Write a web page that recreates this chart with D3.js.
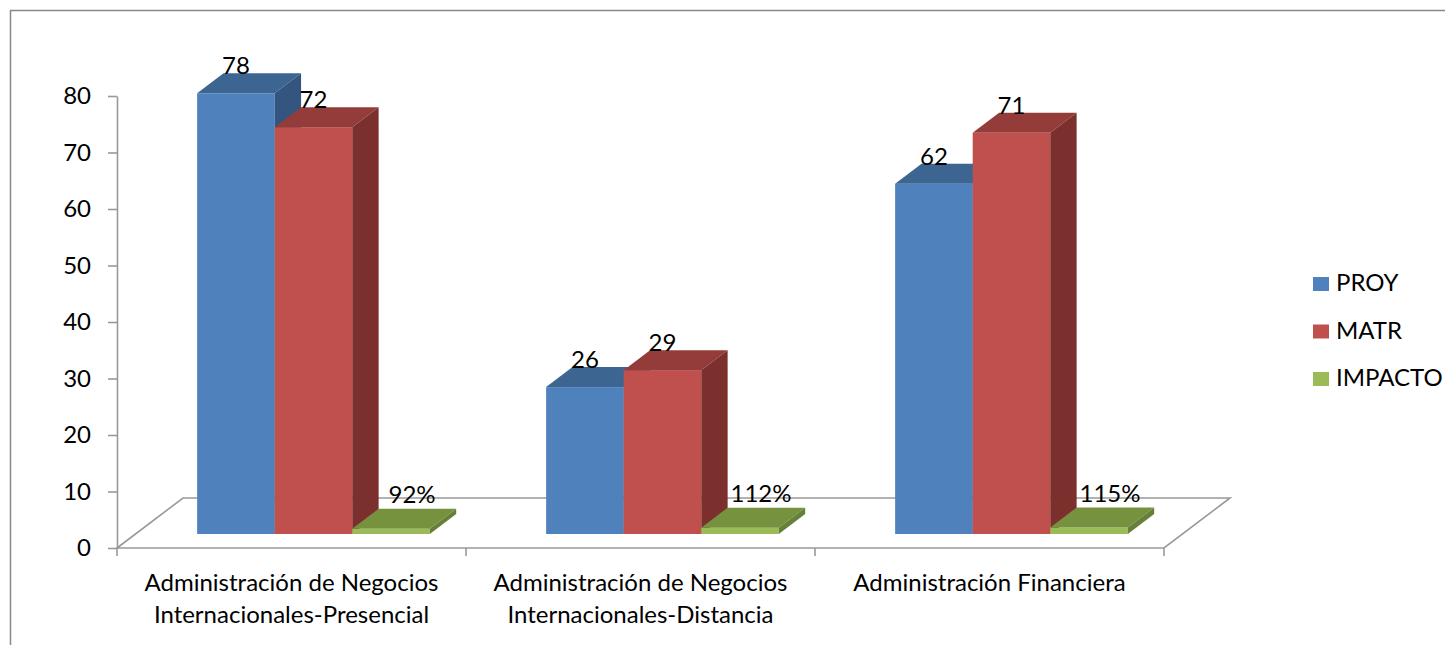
<!DOCTYPE html>
<html>
<head>
<meta charset="utf-8">
<script src="https://cdn.jsdelivr.net/npm/d3@7"></script>
<style>
  body { margin: 0; background: #fff; }
  text { font-family: Lato, "Open Sans", sans-serif; fill: #000; }
</style>
</head>
<body>
<svg id="chart" width="1445" height="645"></svg>
<script>
// data
const categories = [
  "Administración de Negocios Internacionales-Presencial",
  "Administración de Negocios Internacionales-Distancia",
  "Administración Financiera"
];
const seriesNames = ["PROY", "MATR", "IMPACTO"];
const proy    = [78, 26, 62];
const matr    = [72, 29, 71];
const impacto = [0.92, 1.12, 1.15];
const yTicks  = [0, 10, 20, 30, 40, 50, 60, 70, 80];

const seriesValues = [proy, matr, impacto];

// look
const colors = {
  PROY:    {front: "#4f81bd", top: "#3c6592", side: "#33557f"},
  MATR:    {front: "#c0504d", top: "#943c3a", side: "#7c302e"},
  IMPACTO: {front: "#9bbb59", top: "#77923f", side: "#66803a"}
};
const axisColor = "#999";
const fontSize = 24;

// 3d floor: front edge along the x axis, back edge shifted by (floorDx, floorDy)
const floorDx = 66, floorDy = -50;
const barFront = 0.28, barBack = 0.68;

const svg = d3.select("#chart");

// outer frame
svg.append("rect")
  .attr("x", 10.5).attr("y", 10.5)
  .attr("width", 1450).attr("height", 650)
  .attr("fill", "none")
  .attr("stroke", "#888")
  .attr("stroke-width", 1.5);

const x0 = d3.scaleBand()
  .domain(categories)
  .range([117, 1164]);

const x1 = d3.scaleBand()
  .domain(seriesNames)
  .range([0, x0.bandwidth()])
  .paddingOuter(0.75)
  .align(0.53);

const y = d3.scaleLinear()
  .domain([0, 80])
  .range([548, 96]);

// floor outline
const fx0 = x0.range()[0], fx1 = x0.range()[1], fy = y(0);
svg.append("path")
  .attr("d", `M${fx0},${fy} L${fx0 + floorDx},${fy + floorDy} L${fx1 + floorDx},${fy + floorDy} L${fx1},${fy} Z`)
  .attr("fill", "#fff")
  .attr("stroke", axisColor)
  .attr("stroke-width", 1.6);

// y axis
const yAxis = svg.append("g")
  .attr("transform", `translate(${fx0},0)`)
  .call(d3.axisLeft(y).tickValues(yTicks).tickSize(9).tickSizeOuter(0).tickPadding(17));
yAxis.select(".domain").attr("stroke", axisColor).attr("stroke-width", 1.6);
yAxis.selectAll(".tick line").attr("stroke", axisColor).attr("stroke-width", 1.6);
yAxis.selectAll(".tick text")
  .attr("font-size", fontSize)
  .attr("font-family", "Lato, 'Open Sans', sans-serif")
  .attr("fill", "#000");

// category ticks at band edges
const edges = categories.map(c => x0(c)).concat([fx1]);
svg.selectAll("line.catTick")
  .data(edges)
  .enter()
  .append("line")
  .attr("x1", d => d).attr("x2", d => d)
  .attr("y1", fy).attr("y2", fy + 8)
  .attr("stroke", axisColor)
  .attr("stroke-width", 1.6);

// bars
const offX = floorDx * barFront, offY = floorDy * barFront;
const ddx = floorDx * (barBack - barFront), ddy = floorDy * (barBack - barFront);
const bw = x1.bandwidth();

const bars = [];
categories.forEach((c, ci) => {
  seriesNames.forEach((s, si) => {
    const v = seriesValues[si][ci];
    const x = x0(c) + x1(s) + offX;
    const yt = y(v) + offY;
    const yb = y(0) + offY;
    bars.push({cat: c, series: s, value: v, x, yt, yb});
  });
});

const barG = svg.selectAll("g.bar")
  .data(bars)
  .enter()
  .append("g");

barG.append("rect")
  .attr("x", d => d.x)
  .attr("y", d => d.yt)
  .attr("width", bw)
  .attr("height", d => d.yb - d.yt)
  .attr("fill", d => colors[d.series].front);

barG.append("path")
  .attr("d", d => `M${d.x},${d.yt} L${d.x + bw},${d.yt} L${d.x + bw + ddx},${d.yt + ddy} L${d.x + ddx},${d.yt + ddy} Z`)
  .attr("fill", d => colors[d.series].top);

barG.append("path")
  .attr("d", d => `M${d.x + bw},${d.yt} L${d.x + bw + ddx},${d.yt + ddy} L${d.x + bw + ddx},${d.yb + ddy} L${d.x + bw},${d.yb} Z`)
  .attr("fill", d => colors[d.series].side);

// value labels
const fmtNum = d3.format("d");
const fmtPct = d3.format(".0%");
svg.selectAll("text.valueLabel")
  .data(bars)
  .enter()
  .append("text")
  .attr("x", d => d.x + bw / 2 + (d.series === "IMPACTO" ? 21 : 0))
  .attr("y", d => d.yt + ddy + (d.series === "IMPACTO" ? -6 : 1))
  .attr("text-anchor", "middle")
  .attr("font-size", fontSize)
  .text(d => d.series === "IMPACTO" ? fmtPct(d.value) : fmtNum(d.value));

// category labels, wrapped to the band
const catLabels = svg.selectAll("text.catLabel")
  .data(categories)
  .enter()
  .append("text")
  .attr("text-anchor", "middle")
  .attr("font-size", fontSize)
  .attr("x", d => x0(d) + x0.bandwidth() / 2)
  .attr("y", 591);

catLabels.each(function (d) {
  const el = d3.select(this);
  const words = d.split(" ");
  const cx = x0(d) + x0.bandwidth() / 2;
  let line = [];
  let lineNo = 0;
  let tspan = el.append("tspan").attr("x", cx).attr("y", 591);
  for (const w of words) {
    line.push(w);
    tspan.text(line.join(" "));
    if (tspan.node().getComputedTextLength() > 330 && line.length > 1) {
      line.pop();
      tspan.text(line.join(" "));
      line = [w];
      lineNo++;
      tspan = el.append("tspan").attr("x", cx).attr("y", 591 + lineNo * 32).text(w);
    }
  }
});

// legend
const legend = svg.append("g")
  .attr("transform", "translate(1313, 277)");

const legendItems = legend.selectAll("g")
  .data(seriesNames)
  .enter()
  .append("g")
  .attr("transform", (d, i) => `translate(0, ${i * 47.5})`);

legendItems.append("rect")
  .attr("width", 16)
  .attr("height", 14)
  .attr("fill", d => colors[d].front);

legendItems.append("text")
  .attr("x", 23)
  .attr("y", 14)
  .attr("font-size", fontSize)
  .text(d => d);
</script>
</body>
</html>
